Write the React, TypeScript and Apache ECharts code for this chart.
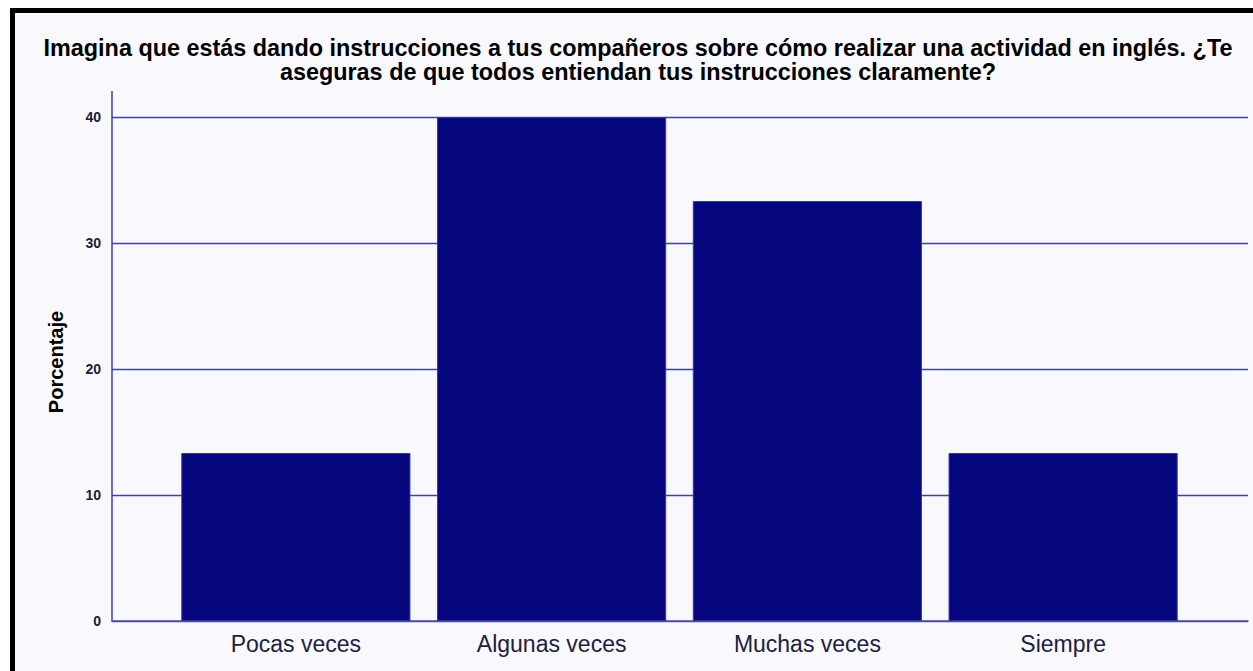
import React, { useEffect, useRef } from "react";
import * as echarts from "echarts";

const titleText =
  "Imagina que estás dando instrucciones a tus compañeros sobre cómo realizar una actividad en inglés. ¿Te\naseguras de que todos entiendan tus instrucciones claramente?";
const categories = ["Pocas veces", "Algunas veces", "Muchas veces", "Siempre"];
const percentages = [13.33, 40, 33.33, 13.33];
const yTicks = { min: 0, max: 40, interval: 10 };
const yName = "Porcentaje";

export default function App() {
  const ref = useRef<HTMLDivElement>(null);
  useEffect(() => {
    if (!ref.current) return;
    const chart = echarts.init(ref.current, null, { renderer: "svg" });
    const font = '"Liberation Sans", Arial, Helvetica, sans-serif';
    chart.setOption({
      animation: false,
      backgroundColor: "transparent",
      title: {
        text: titleText,
        left: 638,
        top: 36,
        textAlign: "center",
        padding: 0,
        textStyle: {
          fontFamily: font,
          fontWeight: "bold",
          fontSize: 23.4,
          lineHeight: 24,
          color: "#000000",
        },
      },
      grid: [
        { left: 112, right: 5, top: 117, bottom: 50 },
        { left: 168, right: 62, top: 117, bottom: 50 },
      ],
      xAxis: [
        {
          gridIndex: 0,
          type: "value",
          min: 0,
          max: 1,
          axisLine: { show: true, onZero: false, lineStyle: { color: "#555585", width: 1.5 } },
          axisTick: { show: false },
          axisLabel: { show: false },
          splitLine: { show: false },
        },
        {
          gridIndex: 1,
          type: "category",
          data: categories,
          axisLine: { show: false },
          axisTick: { show: false },
          axisLabel: {
            fontFamily: font,
            fontSize: 23,
            color: "#202040",
            margin: 11,
          },
        },
      ],
      yAxis: [
        {
          gridIndex: 0,
          type: "value",
          min: yTicks.min,
          max: yTicks.max,
          interval: yTicks.interval,
          name: yName,
          nameLocation: "middle",
          nameRotate: 90,
          nameGap: 46,
          nameTextStyle: {
            fontFamily: font,
            fontWeight: "bold",
            fontSize: 20,
            color: "#000000",
            padding: [0, 0, 0, 14],
          },
          axisLine: { show: true, lineStyle: { color: "#3a3ac8", width: 1.5 } },
          axisTick: { show: false },
          axisLabel: {
            fontFamily: font,
            fontWeight: "bold",
            fontSize: 14,
            color: "#1a1a40",
            margin: 11,
          },
          splitLine: { show: true, lineStyle: { color: "#3d3dcc", width: 1.3 } },
        },
        {
          gridIndex: 1,
          type: "value",
          min: yTicks.min,
          max: yTicks.max,
          interval: yTicks.interval,
          show: false,
          splitLine: { show: false },
        },
      ],
      graphic: [
        {
          type: "line",
          shape: { x1: 112, y1: 91, x2: 112, y2: 117 },
          style: { stroke: "#3a3ac8", lineWidth: 1.5 },
        },
      ],
      series: [
        {
          type: "bar",
          xAxisIndex: 1,
          yAxisIndex: 1,
          data: percentages,
          barCategoryGap: "10.4%",
          itemStyle: { color: "#06067f", borderColor: "#3535a8", borderWidth: 1 },
          z: 3,
        },
      ],
    });
    return () => chart.dispose();
  }, []);

  return (
    <div
      style={{
        position: "fixed",
        left: 0,
        top: 0,
        width: 1253,
        height: 671,
        background: "#ffffff",
        overflow: "hidden",
      }}
    >
      <div
        style={{
          position: "absolute",
          left: 10,
          top: 8,
          width: 1243,
          height: 663,
          boxSizing: "border-box",
          borderTop: "5px solid #000",
          borderLeft: "5px solid #000",
          background: "#f9f9fd",
        }}
      />
      <div
        ref={ref}
        style={{ position: "absolute", left: 0, top: 0, width: 1253, height: 671 }}
      />
    </div>
  );
}
